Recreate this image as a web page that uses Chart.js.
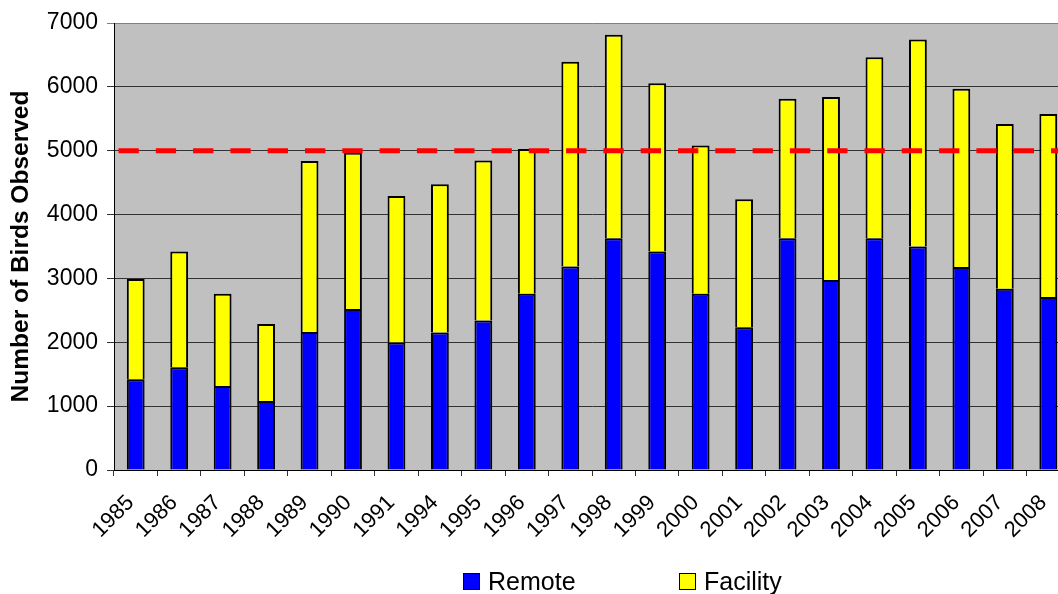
<!DOCTYPE html>
<html lang="en">
<head>
  <meta charset="UTF-8" />
  <title>Number of Birds Observed</title>
  <script src="https://cdn.jsdelivr.net/npm/chart.js"></script>
  <style>
    html, body {
      margin: 0;
      background: #ffffff;
      overflow: hidden;
    }
    canvas {
      display: block;
    }
  </style>
</head>
<body>

<canvas id="birds" width="1072" height="594"></canvas>

<script>
// data
const years = ['1985', '1986', '1987', '1988', '1989', '1990', '1991', '1994', '1995', '1996', '1997',
  '1998', '1999', '2000', '2001', '2002', '2003', '2004', '2005', '2006', '2007', '2008'];
const remote = [1420, 1610, 1315, 1080, 2160, 2520, 1995, 2155, 2340, 2760, 3185,
  3630, 3420, 2760, 2235, 3630, 2975, 3630, 3500, 3180, 2840, 2710];
const facility = [1570, 1810, 1445, 1205, 2680, 2450, 2295, 2320, 2505, 2265, 3210,
  3185, 2635, 2320, 2005, 2185, 2865, 2835, 3240, 2790, 2580, 2865];
const targetLevel = 5000;
const yMin = 0, yMax = 7000, yStep = 1000;

Chart.defaults.font.family = '"Liberation Sans", Arial, sans-serif';
Chart.defaults.color = '#000';

// grey plot area
const plotBg = {
  id: 'plotBg',
  beforeDraw(chart) {
    const a = chart.chartArea;
    const ctx = chart.ctx;
    ctx.save();
    ctx.fillStyle = '#C0C0C0';
    ctx.fillRect(a.left, a.top, a.right - a.left, a.bottom - a.top);
    ctx.restore();
  }
};

// red dashed target line at 5000
const targetLine = {
  id: 'targetLine',
  afterDatasetsDraw(chart) {
    const a = chart.chartArea;
    const y = chart.scales.y.getPixelForValue(targetLevel);
    const ctx = chart.ctx;
    ctx.save();
    ctx.strokeStyle = '#FF0000';
    ctx.lineWidth = 5;
    ctx.setLineDash([20.3, 17]);
    ctx.beginPath();
    ctx.moveTo(a.left + 4.5, y);
    ctx.lineTo(a.right, y);
    ctx.stroke();
    ctx.restore();
  }
};

// legend row at the bottom (wide gap between the two items)
const legendRow = {
  id: 'legendRow',
  afterDraw(chart) {
    const ctx = chart.ctx;
    const spots = [463, 679];
    ctx.save();
    ctx.font = '25px "Liberation Sans", Arial, sans-serif';
    ctx.textBaseline = 'alphabetic';
    chart.data.datasets.forEach((ds, i) => {
      const x = spots[i];
      ctx.fillStyle = ds.backgroundColor;
      ctx.fillRect(x, 573, 17, 17);
      ctx.strokeStyle = '#000';
      ctx.lineWidth = 1;
      ctx.strokeRect(x + 0.5, 573.5, 16, 16);
      ctx.fillStyle = '#000';
      ctx.fillText(ds.label, x + 25, 590);
    });
    ctx.restore();
  }
};

new Chart(document.getElementById('birds'), {
  type: 'bar',
  data: {
    labels: years,
    datasets: [
      {
        label: 'Remote',
        data: remote,
        backgroundColor: '#0000FF',
        borderColor: '#000',
        borderWidth: 2
      },
      {
        label: 'Facility',
        data: facility,
        backgroundColor: '#FFFF00',
        borderColor: '#000',
        borderWidth: 2
      }
    ]
  },
  options: {
    responsive: false,
    animation: false,
    layout: { padding: { top: 23, right: 2, left: 0, bottom: 0 } },
    datasets: {
      bar: { barPercentage: 0.41, categoryPercentage: 1 }
    },
    plugins: {
      legend: { display: false },
      tooltip: { enabled: false }
    },
    scales: {
      x: {
        stacked: true,
        border: { color: '#000', width: 1 },
        grid: {
          drawOnChartArea: false,
          drawTicks: true,
          tickLength: 6,
          color: '#333'
        },
        ticks: {
          minRotation: 45,
          maxRotation: 45,
          padding: 14,
          labelOffset: -5,
          font: { size: 22 }
        },
        afterFit(scale) {
          scale.height = 124;
          scale.paddingLeft = 0;
          scale.paddingRight = 0;
        }
      },
      y: {
        stacked: true,
        min: yMin,
        max: yMax,
        border: { color: '#000', width: 1 },
        grid: {
          color: ctx => (ctx.tick && ctx.tick.value === yMax) ? '#808080' : '#333',
          tickLength: 7
        },
        ticks: {
          stepSize: yStep,
          padding: 9,
          font: { size: 23 },
          callback: value => String(value)
        },
        title: {
          display: true,
          text: 'Number of Birds Observed',
          font: { size: 24.5, weight: 'bold' },
          padding: { top: 7, bottom: 0 }
        },
        afterFit(scale) { scale.width = 114; }
      }
    }
  },
  plugins: [plotBg, targetLine, legendRow]
});
</script>
</body>
</html>
